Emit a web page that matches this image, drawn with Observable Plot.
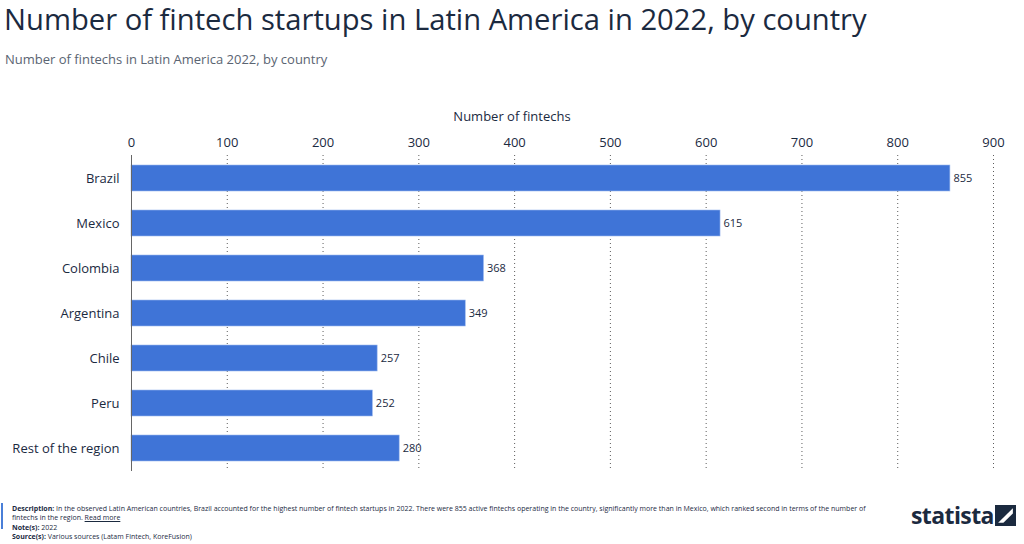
<!DOCTYPE html>
<html>
<head>
<meta charset="utf-8">
<script src="https://cdn.jsdelivr.net/npm/d3@7"></script>
<script src="https://cdn.jsdelivr.net/npm/@observablehq/plot@0.6"></script>
<style>
  html, body { margin: 0; padding: 0; background: #fff; }
  body { width: 1024px; height: 544px; position: relative; overflow: hidden; font-family: "Open Sans", "Noto Sans", sans-serif; color: #1b2a3f; }
  #title { position: absolute; left: 4px; top: -1px; font-size: 29.2px; color: #1b2a3f; white-space: nowrap; }
  #subtitle { position: absolute; left: 5px; top: 50px; font-size: 13px; color: #5a6472; white-space: nowrap; }
  #axislabel { position: absolute; left: 0; width: 1024px; text-align: center; top: 107px; font-size: 13px; color: #1b2a3f; }
  #chart { position: absolute; left: 0; top: 100px; }
  #footer { position: absolute; left: 12px; top: 504px; font-size: 7px; line-height: 9.4px; color: #1b2a3f; }
  #footer div { white-space: nowrap; }
  #footer b { font-weight: 700; }
  #footer u { text-decoration: underline; }
  #bar { position: absolute; left: 1px; top: 503px; width: 2px; height: 26px; background: #4a7fd8; }
  #logo { position: absolute; left: 911px; top: 499px; font-size: 23px; font-weight: 700; color: #1b2a3f; letter-spacing: -0.6px; }
  #logoicon { position: absolute; left: 995px; top: 505px; }
</style>
</head>
<body>
<div id="title">Number of fintech startups in Latin America in 2022, by country</div>
<div id="subtitle">Number of fintechs in Latin America 2022, by country</div>
<div id="axislabel">Number of fintechs</div>
<div id="chart"></div>
<div id="bar"></div>
<div id="footer">
  <div><b>Description:</b> <span>In the observed Latin American countries, Brazil accounted for the highest number of fintech startups in 2022. There were 855 active fintechs operating in the country, significantly more than in Mexico, which ranked second in terms of the number of</span></div>
  <div><span>fintechs in the region.</span> <u>Read more</u></div>
  <div><b>Note(s):</b> <span>2022</span></div>
  <div><b>Source(s):</b> <span>Various sources (Latam Fintech, KoreFusion)</span></div>
</div>
<div id="logo">statista</div>
<svg id="logoicon" width="21" height="21" viewBox="0 0 20 20"><rect x="0" y="0" width="20" height="20" fill="#1b2a3f"/><path d="M3 17 L17 3 L17 8 L8 17 Z" fill="#fff"/></svg>
<script>
const countries = ["Brazil", "Mexico", "Colombia", "Argentina", "Chile", "Peru", "Rest of the region"];
const values = [855, 615, 368, 349, 257, 252, 280];
const xTicks = [0, 100, 200, 300, 400, 500, 600, 700, 800, 900];

const data = countries.map((c, i) => ({country: c, value: values[i]}));

const plot = Plot.plot({
  width: 1024,
  height: 372,
  marginLeft: 131,
  marginRight: 31,
  marginTop: 55,
  marginBottom: 1,
  style: {fontFamily: "'Open Sans', 'Noto Sans', sans-serif", fontSize: "13px", color: "#1b2a3f", background: "transparent"},
  x: {domain: [0, 900], ticks: xTicks, axis: null},
  y: {domain: countries, paddingInner: 0.42, paddingOuter: 0.21, axis: null},
  marks: [
    Plot.gridX(xTicks.filter(d => d > 0), {stroke: "#333", strokeOpacity: 0.8, strokeDasharray: "1,3", strokeWidth: 1}),
    Plot.axisX({anchor: "top", ticks: xTicks, tickSize: 0, tickPadding: 9, label: null, fontSize: 13, fill: "#1b2a3f"}),
    Plot.barX(data, {x: "value", y: "country", fill: "#3f74d7", stroke: "#9bb8ee", strokeWidth: 0.6}),
    Plot.ruleX([0], {stroke: "#666", strokeWidth: 1}),
    Plot.axisY({anchor: "left", tickSize: 0, tickPadding: 12, label: null, fontSize: 13, fill: "#1b2a3f"}),
    Plot.text(data, {x: "value", y: "country", text: d => String(d.value), textAnchor: "start", dx: 3, fontSize: 11, fill: "#1b2a3f"})
  ]
});
document.getElementById("chart").appendChild(plot);
</script>
</body>
</html>
